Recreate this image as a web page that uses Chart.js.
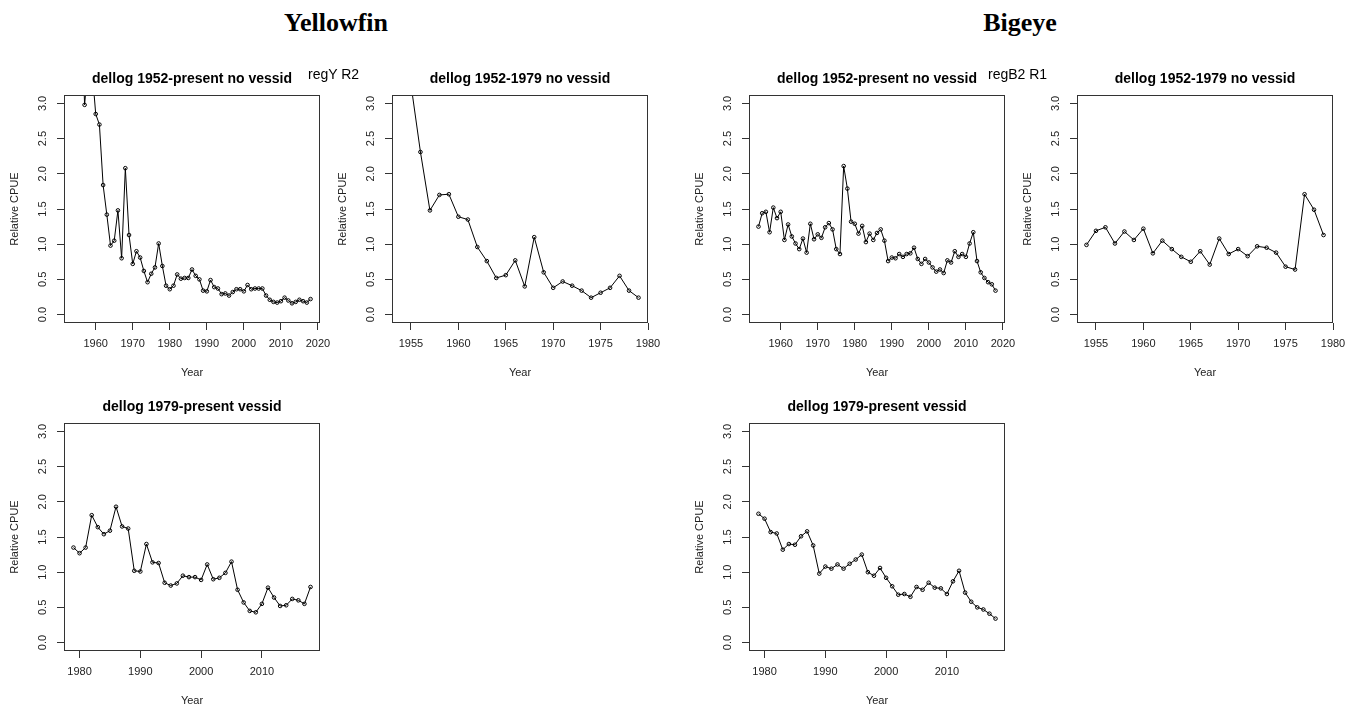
<!DOCTYPE html>
<html>
<head>
<meta charset="utf-8">
<script src="https://cdn.jsdelivr.net/npm/chart.js@4"></script>
<style>
  body { margin: 0; background: #fff; }
  #page { position: relative; width: 1354px; height: 706px; overflow: hidden; }
  canvas { position: absolute; }
  .species { position: absolute; top: 10px; width: 200px; text-align: center;
    font: bold 26px/26px 'Liberation Serif', 'Times New Roman', serif; color: #000; }
  .reg { position: absolute; top: 67px; z-index: 2; color: #000;
    font: 14px/14px 'Liberation Sans', Arial, sans-serif; }
</style>
</head>
<body>
<div id="page">
  <div class="species" style="left:236px">Yellowfin</div>
  <div class="species" style="left:920px">Bigeye</div>
  <div class="reg" style="left:308px">regY R2</div>
  <div class="reg" style="left:988px">regB2 R1</div>
  <canvas id="yfFull" width="340" height="318" style="left:0px;top:65px"></canvas>
  <canvas id="yfEarly" width="340" height="318" style="left:328px;top:65px"></canvas>
  <canvas id="yfLate" width="340" height="318" style="left:0px;top:393px"></canvas>
  <canvas id="beFull" width="340" height="318" style="left:685px;top:65px"></canvas>
  <canvas id="beEarly" width="340" height="318" style="left:1013px;top:65px"></canvas>
  <canvas id="beLate" width="340" height="318" style="left:685px;top:393px"></canvas>
</div>
<script>
// years of each series
const yearsFull = [1954, 1955, 1956, 1957, 1958, 1959, 1960, 1961, 1962, 1963,
  1964, 1965, 1966, 1967, 1968, 1969, 1970, 1971, 1972, 1973,
  1974, 1975, 1976, 1977, 1978, 1979, 1980, 1981, 1982, 1983,
  1984, 1985, 1986, 1987, 1988, 1989, 1990, 1991, 1992, 1993,
  1994, 1995, 1996, 1997, 1998, 1999, 2000, 2001, 2002, 2003,
  2004, 2005, 2006, 2007, 2008, 2009, 2010, 2011, 2012, 2013,
  2014, 2015, 2016, 2017, 2018];
const yearsEarly = [1954, 1955, 1956, 1957, 1958, 1959, 1960, 1961, 1962, 1963,
  1964, 1965, 1966, 1967, 1968, 1969, 1970, 1971, 1972, 1973,
  1974, 1975, 1976, 1977, 1978, 1979];
const yearsLate = [1979, 1980, 1981, 1982, 1983, 1984, 1985, 1986, 1987, 1988,
  1989, 1990, 1991, 1992, 1993, 1994, 1995, 1996, 1997, 1998,
  1999, 2000, 2001, 2002, 2003, 2004, 2005, 2006, 2007, 2008,
  2009, 2010, 2011, 2012, 2013, 2014, 2015, 2016, 2017, 2018];

// relative CPUE, yellowfin (early years run off the top of the plot)
const yfFull = [6.5, 5.5, 4.6, 2.98, 3.6, 3.5, 2.85, 2.70, 1.84, 1.42,
  0.98, 1.05, 1.48, 0.80, 2.08, 1.13, 0.72, 0.90, 0.81, 0.62,
  0.46, 0.58, 0.67, 1.01, 0.69, 0.41, 0.36, 0.41, 0.57, 0.51,
  0.52, 0.52, 0.64, 0.55, 0.50, 0.34, 0.33, 0.49, 0.39, 0.37,
  0.29, 0.30, 0.27, 0.32, 0.36, 0.36, 0.33, 0.42, 0.36, 0.37,
  0.37, 0.37, 0.27, 0.21, 0.18, 0.17, 0.19, 0.24, 0.20, 0.16,
  0.18, 0.21, 0.19, 0.17, 0.22];
const yfEarly = [4.2, 3.27, 2.31, 1.48, 1.70, 1.71, 1.39, 1.35, 0.96, 0.76,
  0.52, 0.56, 0.77, 0.40, 1.10, 0.60, 0.38, 0.47, 0.41, 0.34,
  0.24, 0.31, 0.38, 0.55, 0.34, 0.24];
const yfLate = [1.35, 1.27, 1.35, 1.81, 1.64, 1.54, 1.59, 1.93, 1.65, 1.62,
  1.02, 1.01, 1.40, 1.14, 1.13, 0.85, 0.81, 0.84, 0.95, 0.93,
  0.93, 0.89, 1.11, 0.90, 0.92, 0.99, 1.15, 0.75, 0.57, 0.45,
  0.43, 0.55, 0.78, 0.64, 0.52, 0.53, 0.62, 0.60, 0.55, 0.79];

// relative CPUE, bigeye
const beFull = [1.25, 1.44, 1.46, 1.17, 1.52, 1.37, 1.46, 1.06, 1.28, 1.11,
  1.01, 0.93, 1.08, 0.88, 1.29, 1.07, 1.14, 1.09, 1.24, 1.30,
  1.21, 0.93, 0.86, 2.11, 1.79, 1.32, 1.29, 1.15, 1.26, 1.03,
  1.15, 1.06, 1.16, 1.21, 1.05, 0.76, 0.81, 0.80, 0.86, 0.82,
  0.86, 0.87, 0.95, 0.79, 0.72, 0.79, 0.74, 0.67, 0.61, 0.64,
  0.59, 0.77, 0.74, 0.90, 0.82, 0.86, 0.82, 1.01, 1.17, 0.76,
  0.60, 0.52, 0.46, 0.43, 0.34];
const beEarly = [0.99, 1.19, 1.24, 1.01, 1.18, 1.06, 1.22, 0.87, 1.05, 0.93,
  0.82, 0.75, 0.90, 0.71, 1.08, 0.86, 0.93, 0.83, 0.97, 0.95,
  0.88, 0.68, 0.64, 1.71, 1.49, 1.13];
const beLate = [1.83, 1.76, 1.57, 1.55, 1.32, 1.40, 1.39, 1.51, 1.58, 1.38,
  0.98, 1.08, 1.05, 1.11, 1.05, 1.12, 1.18, 1.25, 1.00, 0.95,
  1.06, 0.92, 0.80, 0.68, 0.69, 0.65, 0.79, 0.75, 0.85, 0.78,
  0.77, 0.69, 0.87, 1.02, 0.71, 0.58, 0.50, 0.47, 0.41, 0.34];

// axis ticks
const cpueTicks = [0, 0.5, 1, 1.5, 2, 2.5, 3];
const cpueLimits = [0, 3];
const ticksFull = [1960, 1970, 1980, 1990, 2000, 2010, 2020];
const ticksEarly = [1955, 1960, 1965, 1970, 1975, 1980];
const ticksLate = [1980, 1990, 2000, 2010];

const FONT = 'Liberation Sans';
const INK = '#222';

// R style box round the plot region
const boxPlugin = {
  id: 'box',
  afterDraw(chart) {
    const {ctx, chartArea: a} = chart;
    ctx.save();
    ctx.strokeStyle = '#333';
    ctx.lineWidth = 1;
    ctx.strokeRect(Math.round(a.left) + 0.5, Math.round(a.top) + 0.5,
      Math.round(a.width) - 1, Math.round(a.height) - 1);
    ctx.restore();
  }
};

function panel(id, title, years, values, xTicks) {
  // R pads the axis range by 4%
  const xPad = (years[years.length - 1] - years[0]) * 0.04;
  const yPad = (cpueLimits[1] - cpueLimits[0]) * 0.04;
  new Chart(document.getElementById(id), {
    type: 'line',
    data: {
      datasets: [{
        data: years.map((yr, i) => ({x: yr, y: values[i]})),
        borderColor: '#000',
        borderWidth: 1,
        pointRadius: 1.8,
        pointBorderWidth: 1,
        pointBorderColor: '#000',
        pointBackgroundColor: 'rgba(255,255,255,0)',
        tension: 0
      }]
    },
    options: {
      responsive: false,
      animation: false,
      layout: { padding: { left: 0, right: 20, top: 0, bottom: 0 } },
      plugins: {
        legend: { display: false },
        tooltip: { enabled: false },
        title: {
          display: true, text: title, fullSize: false, color: '#000',
          font: { family: FONT, size: 14, weight: 'bold' },
          padding: { top: 6, bottom: 7.2 }
        }
      },
      scales: {
        x: {
          type: 'linear',
          min: years[0] - xPad,
          max: years[years.length - 1] + xPad,
          afterBuildTicks: axis => { axis.ticks = xTicks.map(v => ({value: v})); },
          afterFit: axis => { axis.height = 60; },
          grid: { drawOnChartArea: false, drawTicks: true, tickLength: 7, color: '#333' },
          border: { display: false },
          ticks: {
            color: INK, font: { family: FONT, size: 11 }, padding: 7.4,
            maxRotation: 0, autoSkip: false, callback: v => String(v)
          },
          title: {
            display: true, text: 'Year', color: INK,
            font: { family: FONT, size: 11 }, padding: { top: 0, bottom: 3.4 }
          }
        },
        y: {
          min: cpueLimits[0] - yPad,
          max: cpueLimits[1] + yPad,
          afterBuildTicks: axis => { axis.ticks = cpueTicks.map(v => ({value: v})); },
          afterFit: axis => { axis.width = 64; },
          grid: { drawOnChartArea: false, drawTicks: true, tickLength: 7, color: '#333' },
          border: { display: false },
          ticks: {
            color: INK, font: { family: FONT, size: 11 }, padding: 6.7,
            minRotation: 90, maxRotation: 90, crossAlign: 'center',
            callback: v => v.toFixed(1)
          },
          title: {
            display: true, text: 'Relative CPUE', color: INK,
            font: { family: FONT, size: 11 }, padding: { top: 8.4, bottom: 0 }
          }
        }
      }
    },
    plugins: [boxPlugin]
  });
}

panel('yfFull', 'dellog 1952-present no vessid', yearsFull, yfFull, ticksFull);
panel('yfEarly', 'dellog 1952-1979 no vessid', yearsEarly, yfEarly, ticksEarly);
panel('yfLate', 'dellog 1979-present vessid', yearsLate, yfLate, ticksLate);
panel('beFull', 'dellog 1952-present no vessid', yearsFull, beFull, ticksFull);
panel('beEarly', 'dellog 1952-1979 no vessid', yearsEarly, beEarly, ticksEarly);
panel('beLate', 'dellog 1979-present vessid', yearsLate, beLate, ticksLate);
</script>
</body>
</html>
